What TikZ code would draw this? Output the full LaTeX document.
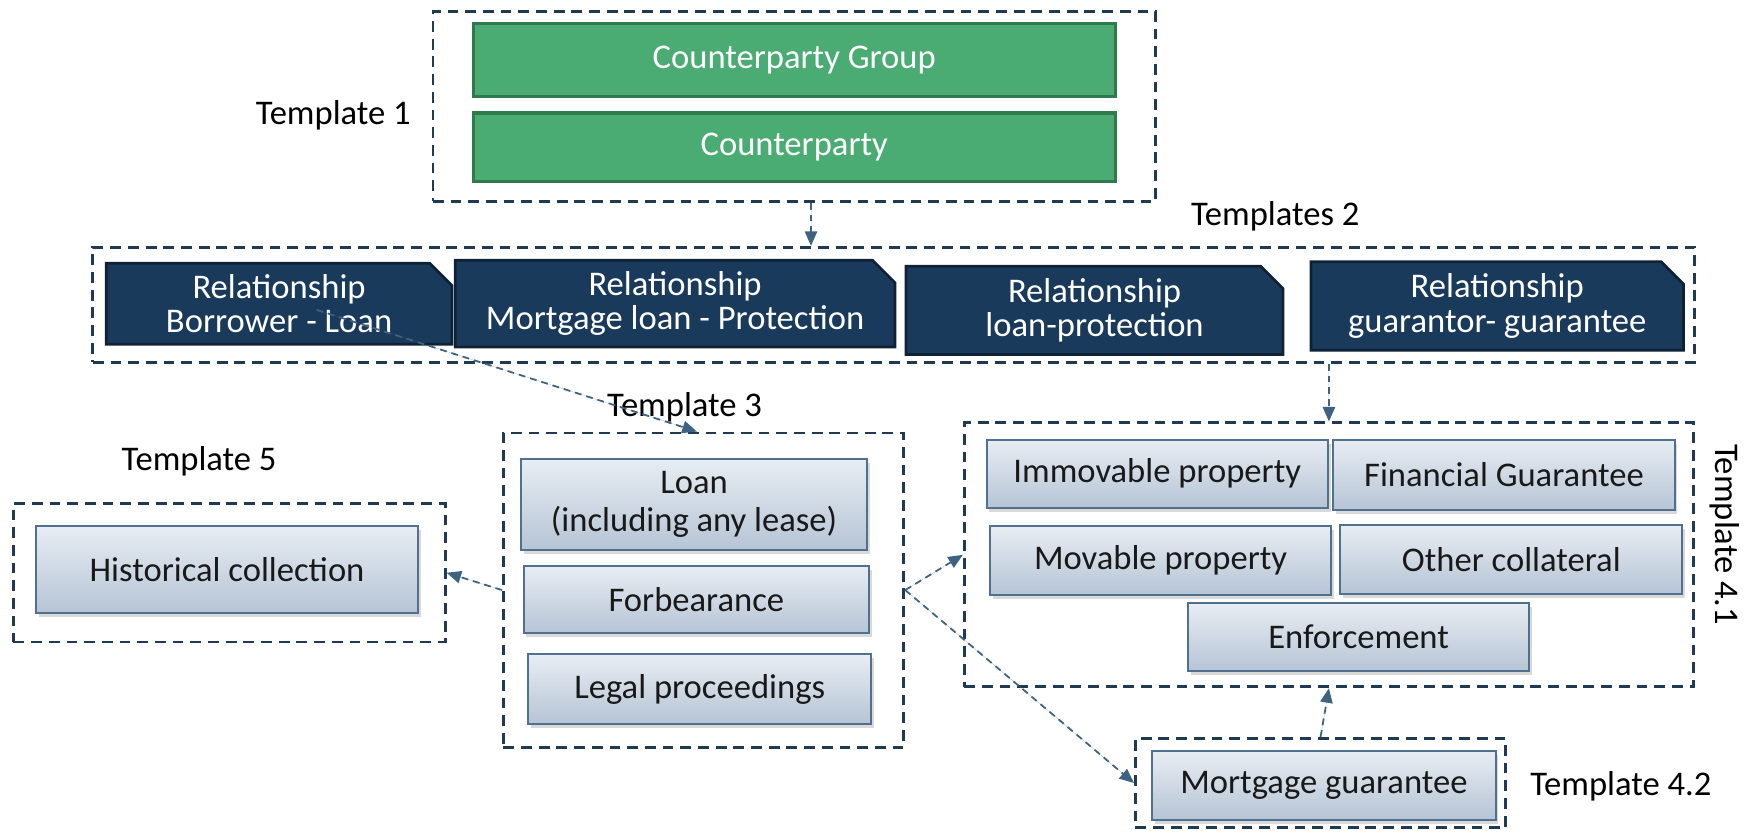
\documentclass[tikz,border=0pt]{standalone}
\usepackage{fontspec}
\setmainfont{Carlito}
\usetikzlibrary{arrows.meta,positioning,shapes.misc,shadows}
\definecolor{framenavy}{HTML}{1F3A52}
\definecolor{linkblue}{HTML}{3E6382}
\definecolor{cpgreen}{HTML}{4AAB73}
\definecolor{cpgreendark}{HTML}{2F7A4C}
\definecolor{relnavy}{HTML}{1A3A5C}
\definecolor{relnavydark}{HTML}{0E2136}
\definecolor{itemtop}{HTML}{E8EDF3}
\definecolor{itembot}{HTML}{B6C4D5}
\definecolor{itemedge}{HTML}{50708F}

\begin{document}
\begin{tikzpicture}[
    frame/.style={rectangle, draw=framenavy, line width=1.4pt, dash pattern=on 5.5pt off 3.5pt},
    cpbox/.style={rectangle, draw=cpgreendark, line width=1.7pt, fill=cpgreen, text=white, minimum width=11.48cm, inner sep=0pt, font=\fontsize{17.6}{21}\selectfont},
    relbox/.style={chamfered rectangle, chamfered rectangle corners=north east, chamfered rectangle sep=0.2cm, draw=relnavydark, line width=1.4pt, fill=relnavy, text=white, inner sep=0pt, align=center, font=\fontsize{17.6}{17.5}\selectfont},
    itembox/.style={rectangle, draw=itemedge, line width=1pt, top color=itemtop, bottom color=itembot, drop shadow={shadow xshift=0.05cm, shadow yshift=-0.07cm, opacity=0.3}, minimum width=6.14cm, minimum height=1.24cm, inner sep=0pt, align=center, text=black!90, font=\fontsize{17.6}{19.5}\selectfont},
    lbl/.style={font=\fontsize{17.6}{21}\selectfont},
    arr/.style={-{Triangle[length=2.6mm, width=2.2mm]}, draw=linkblue, fill=linkblue, line width=0.9pt, dash pattern=on 3.5pt off 2.5pt}
]
\useasboundingbox (0,0) rectangle (31.36,14.88);

\node[frame, minimum width=12.92cm, minimum height=3.4cm] (t1) at (14.2,12.98) {};
\node[cpbox, minimum height=1.3cm] (grp) at (14.2,13.81) {Counterparty Group};
\node[cpbox, minimum height=1.22cm] (cp) at (14.2,12.25) {Counterparty};
\node[lbl] (t1lbl) at (5.96,12.82) {Template 1};

\node[frame, minimum width=28.64cm, minimum height=2.06cm] (t2) at (15.98,9.43) {};
\node[lbl] (t2lbl) at (22.8,11.02) {Templates 2};
\node[relbox, minimum width=6.18cm, minimum height=1.42cm] (borrower) at (4.99,9.45) {Relationship\\Borrower - Loan};
\node[relbox, minimum width=7.86cm, minimum height=1.42cm] (mortgage) at (12.07,9.45) {Relationship\\Mortgage loan - Protection};
\node[relbox, minimum width=6.74cm, minimum height=1.58cm] (loanprot) at (19.57,9.33) {Relationship\\loan-protection};
\node[relbox, minimum width=6.66cm, minimum height=1.58cm] (guarantor) at (26.77,9.41) {Relationship\\guarantor- guarantee};

\node[frame, minimum width=7.16cm, minimum height=5.62cm] (t3) at (12.58,4.33) {};
\node[lbl] (t3lbl) at (12.24,7.6) {Template 3};
\node[itembox, minimum width=6.18cm, minimum height=1.64cm] (loan) at (12.41,5.86) {Loan\\(including any lease)};
\node[itembox, minimum width=6.18cm, minimum height=1.2cm] (forb) at (12.45,4.16) {Forbearance};
\node[itembox] (legal) at (12.51,2.56) {Legal proceedings};

\node[frame, minimum width=7.72cm, minimum height=2.48cm] (t5) at (4.1,4.64) {};
\node[lbl] (t5lbl) at (3.56,6.64) {Template 5};
\node[itembox, minimum width=6.84cm, minimum height=1.56cm] (hist) at (4.06,4.7) {Historical collection};

\node[frame, minimum width=13.04cm, minimum height=4.72cm] (t41) at (23.76,4.96) {};
\node[lbl, rotate=-90] (t41lbl) at (30.84,5.32) {Template 4.1};
\node[itembox, minimum width=6.1cm, minimum height=1.22cm] (immov) at (20.69,6.41) {Immovable property};
\node[itembox, minimum width=6.1cm, minimum height=1.26cm] (fin) at (26.89,6.39) {Financial Guarantee};
\node[itembox, minimum width=6.1cm] (mov) at (20.75,4.86) {Movable property};
\node[itembox, minimum width=6.12cm] (other) at (27.02,4.88) {Other collateral};
\node[itembox, minimum width=6.1cm, minimum height=1.22cm] (enf) at (24.29,3.49) {Enforcement};

\node[frame, minimum width=6.62cm, minimum height=1.6cm] (t42) at (23.61,0.88) {};
\node[itembox] (mortg) at (23.67,0.84) {Mortgage guarantee};
\node[lbl] (t42lbl) at (28.98,0.82) {Template 4.2};

\draw[arr] ([xshift=0.3cm]t1.south) -- ([xshift=0.3cm]t1.south |- t2.north);
\draw[arr] ([shift={(0.67,-0.11)}]borrower.center) -- ([xshift=-0.12cm]t3.north);
\draw[arr] (t3.west) -- (t5.east);
\draw[arr] (t3.east) -- (t41.west);
\draw[arr] (t3.east) -- (t42.west);
\draw[arr] (t42.north) -- (t41.south);
\draw[arr] (t41.north |- t2.south) -- (t41.north);
\end{tikzpicture}
\end{document}
